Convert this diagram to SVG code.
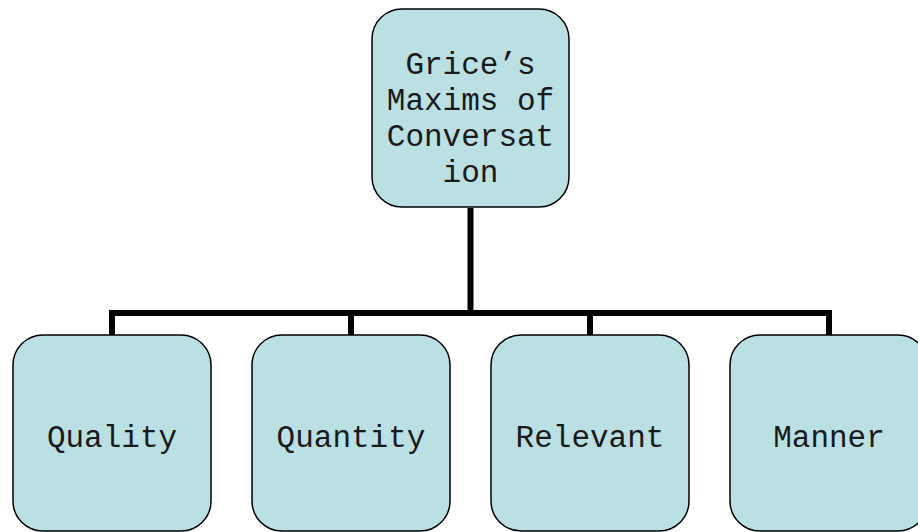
<svg xmlns="http://www.w3.org/2000/svg" width="918" height="532" viewBox="0 0 918 532">
  <style>
    .box { fill: #BBE0E3; stroke: #000; stroke-width: 1.5; }
    .label { font-family: "Liberation Mono", "Courier New", monospace; font-size: 31px; fill: #1a1a1a; text-anchor: middle; }
    .link { fill: none; stroke: #000; stroke-width: 6; stroke-linejoin: miter; }
  </style>
  <rect width="918" height="532" fill="#fff"/>
  <!-- connectors -->
  <g id="connectors">
    <path class="link" d="M470.5 208 V313"/>
    <path class="link" d="M112 336 V313 H829 V336"/>
    <path class="link" d="M351 313 V336"/>
    <path class="link" d="M590 313 V336"/>
  </g>
  <!-- root node -->
  <g id="root">
    <rect class="box" x="372" y="9" width="197" height="198" rx="30" ry="30"/>
    <text class="label" x="470.5" y="74">Grice’s</text>
    <text class="label" x="470.5" y="110">Maxims of</text>
    <text class="label" x="470.5" y="146">Conversat</text>
    <text class="label" x="470.5" y="182">ion</text>
  </g>
  <!-- child nodes -->
  <g id="quality">
    <rect class="box" x="13" y="335" width="198" height="196" rx="30" ry="30"/>
    <text class="label" x="112" y="447">Quality</text>
  </g>
  <g id="quantity">
    <rect class="box" x="252" y="335" width="198" height="196" rx="30" ry="30"/>
    <text class="label" x="351" y="447">Quantity</text>
  </g>
  <g id="relevant">
    <rect class="box" x="491" y="335" width="198" height="196" rx="30" ry="30"/>
    <text class="label" x="590" y="447">Relevant</text>
  </g>
  <g id="manner">
    <rect class="box" x="730" y="335" width="198" height="196" rx="30" ry="30"/>
    <text class="label" x="829" y="447">Manner</text>
  </g>
</svg>
